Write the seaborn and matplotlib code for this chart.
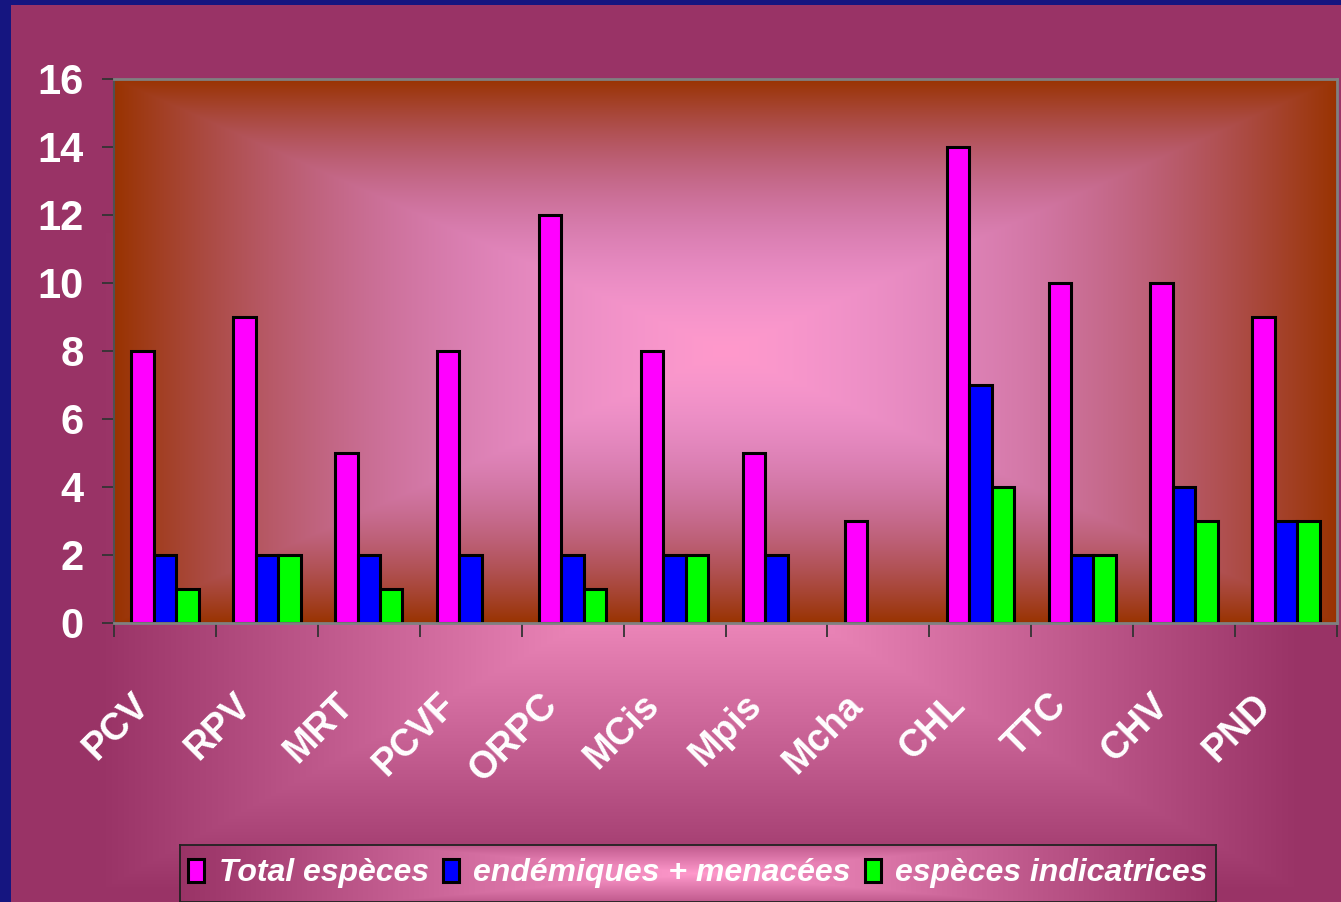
import numpy as np
import pandas as pd
import matplotlib.pyplot as plt
import matplotlib.colors as mcolors
from matplotlib.patches import Patch
from matplotlib.transforms import ScaledTranslation
import seaborn as sns

# --- data ---
sites = ['PCV', 'RPV', 'MRT', 'PCVF', 'ORPC', 'MCis', 'Mpis', 'Mcha', 'CHL', 'TTC', 'CHV', 'PND']
total_especes = [8, 9, 5, 8, 12, 8, 5, 3, 14, 10, 10, 9]
endemiques_menacees = [2, 2, 2, 2, 2, 2, 2, 0, 7, 2, 4, 3]
especes_indicatrices = [1, 2, 1, 0, 1, 2, 0, 0, 4, 2, 3, 3]
series = ['Total espèces', 'endémiques + menacées', 'espèces indicatrices']
bar_colors = ['#ff00ff', '#0000ff', '#00ff00']
y_ticks = list(range(0, 17, 2))

df = pd.DataFrame({
    'site': sites * 3,
    'serie': np.repeat(series, len(sites)),
    'value': total_especes + endemiques_menacees + especes_indicatrices,
})
# empty bars are simply not drawn in the original
df['value'] = df['value'].replace(0, np.nan)

W, H = 1341, 902
NAVY = '#151580'

sns.set_theme(style='white')
plt.rcParams['font.family'] = ['Liberation Sans', 'DejaVu Sans']


def rgb(c):
    return np.array(mcolors.to_rgb(c))


def rect_gradient(w, h, cx, cy, hx, hy, inner, outer, power=(1.0, 1.0, 1.0)):
    # office style "from centre" fill: rectangular contours
    yy, xx = np.mgrid[0:h, 0:w] + 0.5
    t = np.clip(np.maximum(np.abs(xx - cx) / hx, np.abs(yy - cy) / hy), 0, 1)[..., None]
    t = t ** np.array(power)
    return rgb(inner) * (1 - t) + rgb(outer) * t


fig = plt.figure(figsize=(W / 100, H / 100), dpi=100)

# 1. slide background with navy frame
bg = fig.add_axes([0, 0, 1, 1], zorder=-10)
img = rect_gradient(W, H, 700, 560, 600, 330, '#ff99cc', '#993366')
img[:, :11] = rgb(NAVY)
img[:5, :] = rgb(NAVY)
bg.imshow(img, aspect='auto', interpolation='bilinear')
bg.axis('off')

# 2. the bar chart
x0, x1, y0, y1 = 114, 1337, 79, 623
ax = fig.add_axes([x0 / W, 1 - y1 / H, (x1 - x0) / W, (y1 - y0) / H])
sns.barplot(
    data=df, x='site', y='value', hue='serie',
    order=sites, hue_order=series, palette=bar_colors,
    saturation=1, width=0.66, errorbar=None,
    edgecolor='black', linewidth=2.2, ax=ax, zorder=2,
)
if ax.get_legend() is not None:
    ax.get_legend().remove()

pw, ph = x1 - x0, y1 - y0
ax.imshow(rect_gradient(pw, ph, pw / 2, ph / 2, pw / 2, ph / 2, '#ff99cc', '#993300',
                        power=(1.2, 1.6, 2.4)),
          extent=[-0.5, 11.5, 0, 16], aspect='auto', zorder=0, interpolation='bilinear')
ax.set_xlim(-0.5, 11.5)
ax.set_ylim(0, 16)
ax.set_yticks(y_ticks)
ax.set_xticks(np.arange(-0.5, 12, 1), minor=True)
ax.set_xlabel('')
ax.set_ylabel('')

ax.tick_params(axis='x', which='major', bottom=True, length=0, pad=46,
               labelsize=27, labelcolor='white', labelrotation=45)
ax.tick_params(axis='x', which='minor', bottom=True, length=10, width=1.3,
               color='#333333', direction='out')
ax.tick_params(axis='y', left=True, length=9, width=1.3, color='#333333',
               direction='out', pad=13, labelsize=30, labelcolor='white')
for lab in ax.get_yticklabels():
    lab.set_fontweight('bold')
shift = ScaledTranslation(-0.08, 0, fig.dpi_scale_trans)
for lab in ax.get_xticklabels():
    lab.set_fontweight('bold')
    lab.set_ha('right')
    lab.set_va('top')
    lab.set_transform(lab.get_transform() + shift)

for side in ['top', 'right', 'bottom']:
    ax.spines[side].set_color('#808080')
    ax.spines[side].set_linewidth(2)
ax.spines['left'].set_color('#505050')
ax.spines['left'].set_linewidth(1.5)

# 3. legend box with its own gradient
lx0, lx1, ly0 = 180, 1216, 845
lw, lh = lx1 - lx0, H - ly0
lax = fig.add_axes([lx0 / W, 0, lw / W, lh / H])
lax.imshow(rect_gradient(lw, lh, lw / 2, lh / 2, lw / 2, lh * 0.8, '#ff99cc', '#993366'),
           aspect='auto', interpolation='bilinear')
lax.set_xticks([])
lax.set_yticks([])
for side in lax.spines.values():
    side.set_color('#222222')
    side.set_linewidth(1.3)

handles = [Patch(facecolor=c, edgecolor='black', linewidth=2.2) for c in bar_colors]
lax.legend(handles, series, loc='center', ncol=3, frameon=False,
           prop=dict(weight='bold', style='italic', size=23), labelcolor='white',
           handlelength=0.5, handleheight=0.75, handletextpad=0.45,
           columnspacing=0.45, borderaxespad=0)

fig.savefig('out.png', dpi=100)
